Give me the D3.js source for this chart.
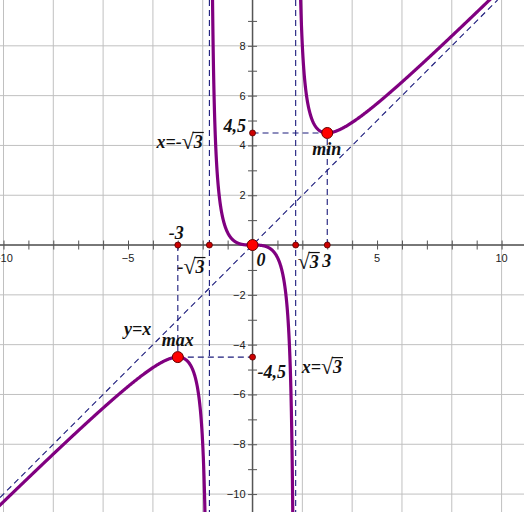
<!DOCTYPE html>
<html><head><meta charset="utf-8">
<script src="https://cdn.jsdelivr.net/npm/d3@7"></script>
<style>body{margin:0;background:#fff}svg{display:block}</style>
</head><body>
<script>
// ---- data ----
const xDomain = [-10.14, 10.90];
const yDomain = [-10.72, 9.84];
const xTickLabels = [-10, -5, 5, 10];
const yTickLabels = [-10, -8, -6, -4, -2, 2, 4, 6, 8];
const gridValues = [-10, -8, -6, -4, -2, 0, 2, 4, 6, 8, 10];
const asymptotesX = [-Math.sqrt(3), Math.sqrt(3)];
const bigPointsX = [-3, 0, 3];
const bigPointsY = [-4.5, 0, 4.5];
const smallPointsX = [-3, -Math.sqrt(3), Math.sqrt(3), 3, 0, 0];
const smallPointsY = [0, 0, 0, 0, 4.5, -4.5];
// f(x) = x^3 / (x^2 - 3)
const f = x => x * x * x / (x * x - 3);
const branchRanges = [[-10.3, -1.75], [-1.715, 1.715], [1.75, 11]];
// labels: text parts (pre, radicand after √), anchor (data), pixel offset
const labels = [
  {pre: "-3", rad: null, x: -3, y: 0, dx: -9, dy: -6},
  {pre: "-", rad: "3", x: -Math.sqrt(3), y: 0, dx: -32, dy: 28},
  {pre: "0", rad: null, x: 0, y: 0, dx: 4, dy: 21},
  {pre: "", rad: "3", x: Math.sqrt(3), y: 0, dx: 2, dy: 23},
  {pre: "3", rad: null, x: 3, y: 0, dx: -5, dy: 22},
  {pre: "4,5", rad: null, x: 0, y: 4.5, dx: -29, dy: -1},
  {pre: "x=-", rad: "3", x: -Math.sqrt(3), y: 4.5, dx: -53, dy: 15},
  {pre: "min", rad: null, x: 3, y: 4.5, dx: -15, dy: 22},
  {pre: "y=x", rad: null, x: -5, y: -3.6, dx: -4, dy: 0},
  {pre: "max", rad: null, x: -3, y: -4.5, dx: -16, dy: -11},
  {pre: "-4,5", rad: null, x: 0, y: -4.5, dx: 5, dy: 21},
  {pre: "x=", rad: "3", x: Math.sqrt(3), y: -4.5, dx: 6, dy: 16}
];

const W = 524, H = 512;
const x = d3.scaleLinear().domain(xDomain).range([0, W]);
const y = d3.scaleLinear().domain(yDomain).range([H, 0]);

const svg = d3.select("body").append("svg").attr("width", W).attr("height", H);

// grid
svg.append("g").selectAll("line").data(gridValues).join("line")
  .attr("x1", d => x(d)).attr("x2", d => x(d)).attr("y1", 0).attr("y2", H)
  .attr("stroke", "#c0c0c0").attr("stroke-width", 1);
svg.append("g").selectAll("line").data(gridValues).join("line")
  .attr("y1", d => y(d)).attr("y2", d => y(d)).attr("x1", 0).attr("x2", W)
  .attr("stroke", "#c0c0c0").attr("stroke-width", 1);

// axes
const axisColor = "#555";
const xAx = d3.axisBottom(x).tickValues(d3.range(-10, 11, 1)).tickSize(0).tickFormat("");
const yAx = d3.axisLeft(y).tickValues(d3.range(-10, 10, 1)).tickSize(0).tickFormat("");
const gx = svg.append("g").attr("transform", `translate(0,${y(0)})`).call(xAx);
gx.select(".domain").remove();
gx.append("line").attr("x1", 0).attr("x2", W).attr("stroke", axisColor).attr("stroke-width", 1.5);
gx.selectAll(".tick line").attr("y1", -4.5).attr("y2", 4.5).attr("stroke", axisColor);
const gy = svg.append("g").attr("transform", `translate(${x(0)},0)`).call(yAx);
gy.select(".domain").remove();
gy.append("line").attr("y1", 0).attr("y2", H).attr("stroke", axisColor).attr("stroke-width", 1.5);
gy.selectAll(".tick line").attr("x1", -4.5).attr("x2", 4.5).attr("stroke", axisColor);

// tick labels
svg.append("g").selectAll("text").data(xTickLabels).join("text")
  .attr("x", d => x(d)).attr("y", y(0) + 17).attr("text-anchor", "middle")
  .attr("font-family", "Liberation Sans, Arial, sans-serif").attr("font-size", 11).attr("fill", "#222")
  .text(d => d < 0 ? "−" + Math.abs(d) : d);
svg.append("g").selectAll("text").data(yTickLabels).join("text")
  .attr("x", x(0) - 7).attr("y", d => y(d) + 4).attr("text-anchor", "end")
  .attr("font-family", "Liberation Sans, Arial, sans-serif").attr("font-size", 11).attr("fill", "#222")
  .text(d => d < 0 ? "−" + Math.abs(d) : d);

// dashed lines
const dashColor = "#1c1c7c";
const dashed = svg.append("g").attr("stroke", dashColor).attr("stroke-width", 1.1).attr("stroke-dasharray", "6,4").attr("fill", "none");
asymptotesX.forEach(a => dashed.append("line").attr("x1", x(a)).attr("x2", x(a)).attr("y1", 0).attr("y2", H));
dashed.append("line").attr("x1", x(xDomain[0])).attr("y1", y(xDomain[0])).attr("x2", x(yDomain[1])).attr("y2", y(yDomain[1]));
dashed.append("line").attr("x1", x(3)).attr("y1", y(0)).attr("x2", x(3)).attr("y2", y(4.5));
dashed.append("line").attr("x1", x(0)).attr("y1", y(4.5)).attr("x2", x(3)).attr("y2", y(4.5));
dashed.append("line").attr("x1", x(-3)).attr("y1", y(0)).attr("x2", x(-3)).attr("y2", y(-4.5));
dashed.append("line").attr("x1", x(-3)).attr("y1", y(-4.5)).attr("x2", x(0)).attr("y2", y(-4.5));

// curve
svg.append("clipPath").attr("id", "clip").append("rect").attr("width", W).attr("height", H);
const line = d3.line().x(d => x(d[0])).y(d => y(d[1]));
const cg = svg.append("g").attr("clip-path", "url(#clip)");
branchRanges.forEach(([a, b]) => {
  const pts = d3.range(0, 1.0001, 1 / 600).map(t => {
    const xv = a + (b - a) * t;
    return [xv, Math.max(-40, Math.min(40, f(xv)))];
  });
  cg.append("path").attr("d", line(pts)).attr("fill", "none")
    .attr("stroke", "#800080").attr("stroke-width", 3.2).attr("stroke-linejoin", "round");
});

// points
svg.append("g").selectAll("circle").data(smallPointsX).join("circle")
  .attr("cx", d => x(d)).attr("cy", (d, i) => y(smallPointsY[i])).attr("r", 3)
  .attr("fill", "#cc0000").attr("stroke", "#550000").attr("stroke-width", 0.8);
svg.append("g").selectAll("circle").data(bigPointsX).join("circle")
  .attr("cx", d => x(d)).attr("cy", (d, i) => y(bigPointsY[i])).attr("r", 5.5)
  .attr("fill", "#ff0000").attr("stroke", "#660000").attr("stroke-width", 1);

// annotation labels
const lg = svg.append("g");
labels.forEach(l => {
  const t = lg.append("text")
    .attr("x", x(l.x) + l.dx).attr("y", y(l.y) + l.dy)
    .attr("font-family", "Liberation Serif, Times New Roman, serif")
    .attr("font-style", "italic").attr("font-weight", "bold").attr("font-size", 18)
    .attr("fill", "#111");
  t.append("tspan").text(l.pre);
  if (l.rad !== null) {
    t.append("tspan").attr("font-style", "normal").attr("font-weight", "normal")
      .attr("font-size", 22).attr("dy", 1).text("√");
    t.append("tspan").attr("dy", -1).text(l.rad);
    const node = t.node();
    const idx = l.pre.length;
    const r = node.getExtentOfChar(idx);
    const endX = node.getEndPositionOfChar(idx + 1).x;
    const topY = r.y + 3.5;
    lg.append("line").attr("x1", r.x + r.width - 1.2).attr("x2", endX + 1)
      .attr("y1", topY).attr("y2", topY).attr("stroke", "#111").attr("stroke-width", 1.2);
  }
});
</script>
</body></html>
